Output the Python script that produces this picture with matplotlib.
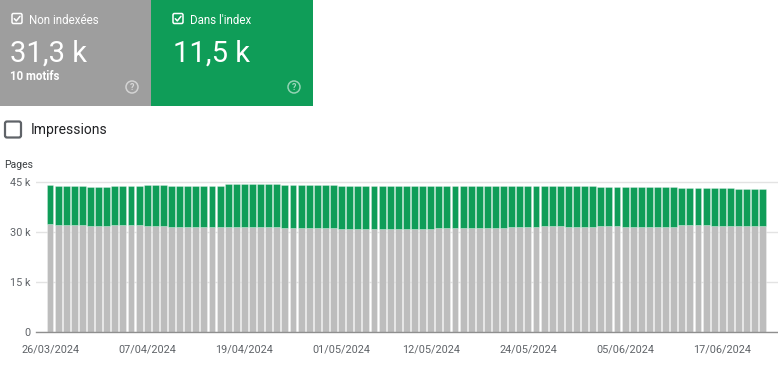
import numpy as np
import pandas as pd
import matplotlib
matplotlib.use('Agg')
import matplotlib.pyplot as plt
from matplotlib.patches import Rectangle, FancyBboxPatch, Circle

plt.rcParams['font.family'] = ['Roboto', 'DejaVu Sans']

# one bar per day, 26/03/2024 -> 22/06/2024
dates = pd.date_range('2024-03-26', periods=89, freq='D')

# pages "Non indexées" (grey part)
non_indexees = [
    32200, 31900, 31900, 31900, 31900, 31600, 31600, 31600, 31900, 31900,
    31900, 31900, 31600, 31600, 31600, 31300, 31300, 31300, 31300, 31300,
    31300, 31300, 31300, 31300, 31300, 31300, 31300, 31300, 31300, 31000,
    31000, 31000, 31000, 31000, 31000, 31000, 30700, 30700, 30700, 30700,
    30700, 30700, 30700, 30700, 30700, 30700, 30700, 30700, 31000, 31000,
    31000, 31000, 31000, 31000, 31000, 31000, 31000, 31300, 31300, 31300,
    31300, 31600, 31600, 31600, 31300, 31300, 31300, 31300, 31600, 31600,
    31600, 31300, 31300, 31300, 31300, 31300, 31300, 31300, 31900, 31900,
    31900, 31900, 31600, 31600, 31600, 31600, 31600, 31600, 31600,
]

# pages "Dans l'index" (green part, stacked on top)
dans_index = [
    11700, 11700, 11700, 11700, 11700, 11700, 11700, 11700, 11700, 11700,
    11700, 11700, 12300, 12300, 12300, 12500, 12500, 12500, 12500, 12500,
    12500, 12500, 13100, 13100, 13100, 13100, 13100, 13100, 13100, 13100,
    13100, 13100, 13100, 13100, 13100, 13100, 13100, 13100, 13100, 13100,
    13100, 13100, 13100, 13100, 13100, 13100, 13100, 13100, 12800, 12800,
    12800, 12800, 12800, 12800, 12600, 12600, 12600, 12300, 12300, 12300,
    12300, 12000, 12000, 12000, 12300, 12300, 12300, 12300, 11700, 11700,
    11700, 12000, 12000, 12000, 12000, 12000, 12000, 12000, 11100, 11100,
    11100, 11100, 11400, 11400, 11400, 11100, 11100, 11100, 11100,
]

tick_days = [0, 12, 24, 36, 47, 59, 71, 83]
y_ticks = [0, 15000, 30000, 45000]
y_labels = ['0', '15 k', '30 k', '45 k']

GREY = '#bdbdbd'
GREEN = '#0f9d58'
CARD_GREY = '#9e9e9e'

W, H = 778, 366
fig = plt.figure(figsize=(W / 100, H / 100), dpi=100)

# overlay in pixel coords for the header cards
ov = fig.add_axes([0, 0, 1, 1])
ov.set_xlim(0, W)
ov.set_ylim(H, 0)
ov.axis('off')

ov.add_patch(Rectangle((0, 0), 151, 105.5, color=CARD_GREY, lw=0))
ov.add_patch(Rectangle((151, 0), 162, 105.5, color=GREEN, lw=0))


def checkbox(x, y):
    ov.add_patch(FancyBboxPatch((x, y), 10, 10, boxstyle='round,pad=0,rounding_size=1.5',
                                fc='none', ec='white', lw=1.1))
    ov.plot([x + 2.3, x + 4.3, x + 8.0], [y + 5.2, y + 7.4, y + 2.8], color='white', lw=1.1,
            solid_capstyle='round')


def help_icon(x, y):
    ov.add_patch(Circle((x, y), 6, fc='none', ec=(1, 1, 1, 0.55), lw=1.1))
    ov.text(x, y + 0.3, '?', color=(1, 1, 1, 0.6), fontsize=6.5, ha='center', va='center',
            fontweight='bold')


checkbox(12, 13.5)
ov.text(29, 23.5, 'Non indexées', color='white', fontsize=8.3, va='baseline')
ov.text(10, 62, '31,3 k', color='white', fontsize=21, va='baseline')
ov.text(10.5, 80.5, '10 motifs', color='white', fontsize=8.3, fontweight='bold', va='baseline')
help_icon(132, 87)

checkbox(173, 13.5)
ov.text(190, 23.5, "Dans l'index", color='white', fontsize=8.3, va='baseline')
ov.text(173, 62, '11,5 k', color='white', fontsize=21, va='baseline')
help_icon(294, 87)

ov.add_patch(FancyBboxPatch((5, 121.5), 16, 16, boxstyle='round,pad=0,rounding_size=2',
                            fc='white', ec='#5f6368', lw=1.6))
ov.text(31, 130, 'Impressions', color='#202124', fontsize=10, va='center')

ov.text(4, 168, 'Pages', color='#3c4043', fontsize=7.5, va='baseline')

# chart axes: zero line at y=331.7 px, 15k = 50 px, day 0 centred at x=50, 8.1 px/day
x0_px, x1_px = 36, W
zero_px = 331.7
px_per_page = 150 / 45000
ymax = 46500
ax_h = ymax * px_per_page
ax = fig.add_axes([x0_px / W, (H - zero_px) / H, (x1_px - x0_px) / W, ax_h / H])
ax.set_xlim((x0_px - 50) / 8.1, (x1_px - 50) / 8.1)
ax.set_ylim(0, ymax)

x = np.arange(len(dates))
ax.bar(x, non_indexees, width=0.86, color=GREY, edgecolor=(1, 1, 1, 0.35), linewidth=0.6,
       zorder=3)
ax.bar(x, dans_index, bottom=non_indexees, width=0.86, color=GREEN,
       edgecolor=(1, 1, 1, 0.3), linewidth=0.6, zorder=3)

ax.set_yticks(y_ticks)
ax.set_yticklabels(y_labels)
ax.set_xticks(tick_days)
ax.set_xticklabels([dates[d].strftime('%d/%m/%Y') for d in tick_days])
ax.tick_params(axis='both', length=0, labelsize=7.8, colors='#5f6368')
ax.tick_params(axis='x', pad=9)
ax.tick_params(axis='y', pad=4)
ax.yaxis.grid(True, color='#e3e3e3', lw=1)
ax.set_axisbelow(True)
for s in ['top', 'right', 'left']:
    ax.spines[s].set_visible(False)
ax.spines['bottom'].set_color('#8f8f8f')
ax.spines['bottom'].set_linewidth(1)
ax.spines['bottom'].set_zorder(4)

fig.savefig('out.png', dpi=100)
